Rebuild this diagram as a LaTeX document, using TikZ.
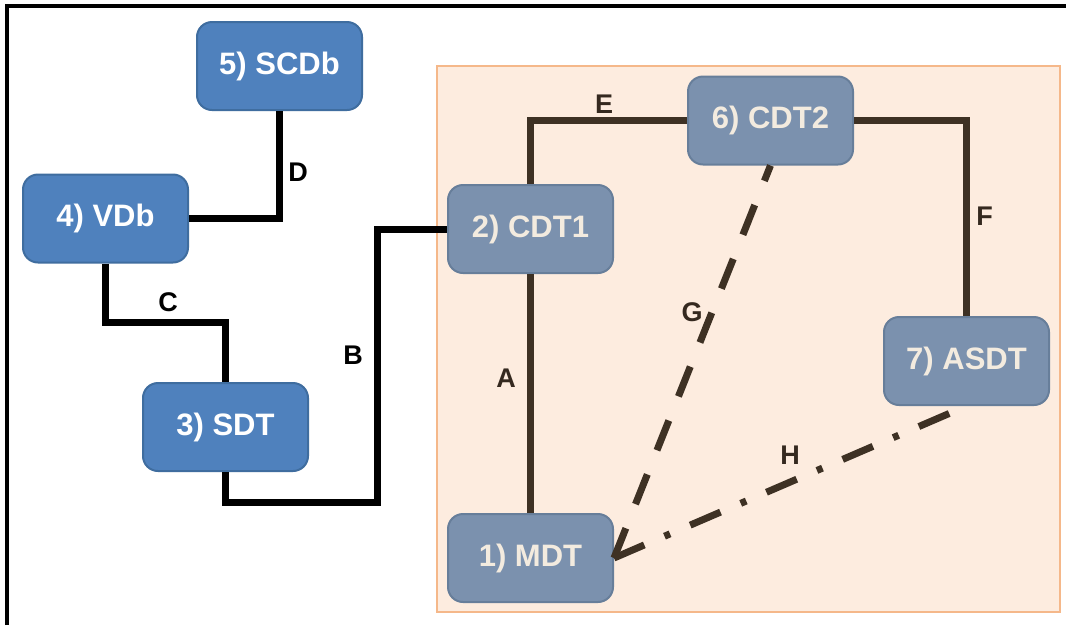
\documentclass[tikz,border=0pt]{standalone}
\usepackage{fontspec}
\setmainfont{Liberation Sans}
\definecolor{obfill}{HTML}{4F81BD}
\definecolor{obdraw}{HTML}{3F6D9F}
\definecolor{ibfill}{HTML}{7B91AE}
\definecolor{ibdraw}{HTML}{677E9A}
\definecolor{ibtext}{HTML}{F3EBDF}
\definecolor{inline}{HTML}{3E3124}
\definecolor{inlabel}{HTML}{35291F}
\definecolor{zonefill}{HTML}{FDECDF}
\definecolor{zonedraw}{HTML}{F5B88A}
\begin{document}
\begin{tikzpicture}[x=1pt,y=-1pt,
  box/.style={rounded corners=15pt, minimum width=165pt, minimum height=88pt,
    line width=2pt, inner sep=0pt, font=\fontsize{31}{31}\selectfont\bfseries},
  outerbox/.style={box, fill=obfill, draw=obdraw, text=white},
  innerbox/.style={box, fill=ibfill, draw=ibdraw, text=ibtext},
  wire/.style={line width=7pt, line join=miter},
  outwire/.style={wire, draw=black},
  inwire/.style={wire, draw=inline},
  dashwire/.style={line width=7pt, draw=inline, dash pattern=on 32pt off 26pt},
  dotwire/.style={line width=7pt, draw=inline, dash pattern=on 33pt off 22pt on 6pt off 22pt},
  lbl/.style={inner sep=0pt, font=\fontsize{27}{27}\selectfont\bfseries},
  outlbl/.style={lbl, text=black},
  inlbl/.style={lbl, text=inlabel}]
\useasboundingbox (0,0) rectangle (1066,625);
\fill[white] (0,0) rectangle (1066,625);
% frame
\draw[line width=4pt, line join=miter] (7,625) -- (7,6) -- (1066,6);
% zone
\draw[fill=zonefill, draw=zonedraw, line width=2.5pt] (437,66) rectangle (1060,612);
% nodes
\node[outerbox] (s5) at (279.5,66) {5) SCDb};
\node[outerbox] (v4) at (105.5,218.5) {4) VDb};
\node[outerbox] (s3) at (225.5,427) {3) SDT};
\node[innerbox] (c2) at (530.5,229) {2) CDT1};
\node[innerbox] (c6) at (770.5,120.5) {6) CDT2};
\node[innerbox] (a7) at (966.5,361) {7) ASDT};
\node[innerbox] (m1) at (530.5,558) {1) MDT};
% connectors
\draw[outwire] (s5.south) |- (v4.east);
\draw[outwire] (v4.south) -- (v4.south |- 0,322) -| (s3.north);
\draw[outwire] (s3.south) |- (377,502) |- (c2.west);
\draw[inwire] (c2.north) |- (c6.west);
\draw[inwire] (c6.east) -| (a7.north);
\draw[inwire] (c2.south) -- (m1.north);
\draw[dashwire] (m1.east) -- (c6.south);
\draw[dotwire] (m1.east) -- (a7.south);
% labels
\node[outlbl] (lD) at (298,172) {D};
\node[outlbl] (lC) at (168,302) {C};
\node[outlbl] (lB) at (353,355) {B};
\node[inlbl] (lE) at (604,104) {E};
\node[inlbl] (lF) at (984.5,216) {F};
\node[inlbl] (lG) at (692,312) {G};
\node[inlbl] (lA) at (506,378) {A};
\node[inlbl] (lH) at (790,455) {H};
\end{tikzpicture}
\end{document}
